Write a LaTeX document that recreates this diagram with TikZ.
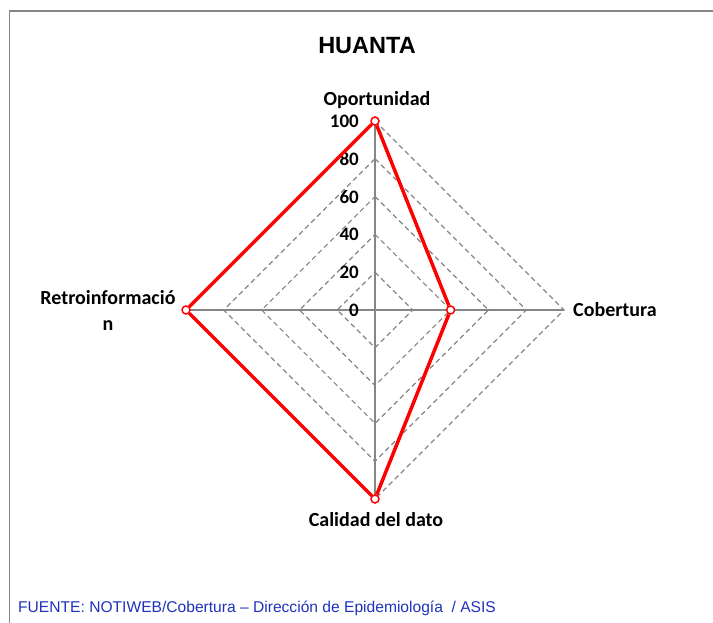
\documentclass[tikz,border=0pt]{standalone}
\usepackage{fontspec}
\setmainfont{Carlito}
\newfontfamily\arialfont{Liberation Sans}
\definecolor{gridgray}{RGB}{134,134,134}
\definecolor{serred}{RGB}{255,0,0}
\definecolor{srcblue}{RGB}{30,50,190}
\tikzset{
  axisline/.style={draw=gridgray,line width=1.6pt},
  ringline/.style={draw=gridgray,line width=1.2pt,dash pattern=on 5pt off 3.5pt},
  catlabel/.style={font=\fontsize{20}{26}\selectfont\bfseries,inner sep=0pt},
  numlabel/.style={font=\fontsize{19}{22}\selectfont\bfseries,inner sep=0pt,anchor=east},
  datapt/.style={circle,draw=serred,fill=white,line width=1.5pt,minimum size=8pt,inner sep=0pt}
}

\begin{document}
\begin{tikzpicture}[x=1pt,y=-1pt]
  \useasboundingbox (0,0) rectangle (713,623);
  \draw[gridgray,line width=1.5pt] (9.5,630) -- (9.5,11) -- (720,11);

  \node[font=\arialfont\fontsize{23.5}{26}\selectfont\bfseries] (title) at (367,46) {HUANTA};

  % axes
  \coordinate (c) at (375,310);
  \coordinate (top) at (375,121);
  \coordinate (right) at (564,310);
  \coordinate (bottom) at (375,499);
  \coordinate (left) at (186,310);

  % rings 20..100
  \draw[ringline] (375,272.2) -- (412.8,310) -- (375,347.8) -- (337.2,310) -- cycle;
  \draw[ringline] (375,234.4) -- (450.6,310) -- (375,385.6) -- (299.4,310) -- cycle;
  \draw[ringline] (375,196.6) -- (488.4,310) -- (375,423.4) -- (261.6,310) -- cycle;
  \draw[ringline] (375,158.8) -- (526.2,310) -- (375,461.2) -- (223.8,310) -- cycle;
  \draw[ringline] (top) -- (right) -- (bottom) -- (left) -- cycle;

  \draw[axisline] (c) -- (top);
  \draw[axisline] (c) -- (right);
  \draw[axisline] (c) -- (bottom);
  \draw[axisline] (c) -- (left);

  \node[numlabel] (n0) at (359,310) {0};
  \node[numlabel] (n20) at (359,272.2) {20};
  \node[numlabel] (n40) at (359,234.4) {40};
  \node[numlabel] (n60) at (359,196.6) {60};
  \node[numlabel] (n80) at (359,158.8) {80};
  \node[numlabel] (n100) at (359,121) {100};

  \node[catlabel] (oport) at (377,100) {Oportunidad};
  \node[catlabel,anchor=west] (cober) at (573,310) {Cobertura};
  \node[catlabel] (calid) at (376,520) {Calidad del dato};
  \node[catlabel,align=center] (retro) at (108,310) {Retroinformació\\n};

  % serie
  \node[datapt] (pop) at (top) {};
  \node[datapt] (pcob) at (450.6,310) {};
  \node[datapt] (pcal) at (bottom) {};
  \node[datapt] (pret) at (left) {};
  \draw[serred,line width=3.5pt,line join=round] (pop) -- (pcob) -- (pcal) -- (pret) -- (pop);

  \node[font=\arialfont\fontsize{15.6}{17}\selectfont,text=srcblue,anchor=west,inner sep=0pt] (fuente) at (18,608) {FUENTE: NOTIWEB/Cobertura – Dirección de Epidemiología~ / ASIS};
\end{tikzpicture}
\end{document}
